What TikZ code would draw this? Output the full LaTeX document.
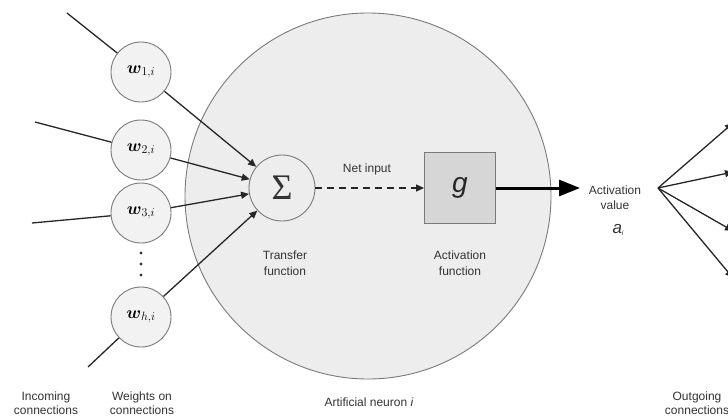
\documentclass[tikz,border=0pt]{standalone}
\usepackage{fontspec}
\usepackage{amsmath}
\setsansfont{Liberation Sans}
\newfontfamily\sigmafont{Liberation Serif}
\usetikzlibrary{arrows.meta}
\definecolor{neurofill}{HTML}{EDEDED}
\definecolor{wfill}{HTML}{F2F2F2}
\definecolor{gfill}{HTML}{D6D6D6}
\definecolor{edgegray}{HTML}{7A7A7A}
\definecolor{txtgray}{HTML}{333333}
\begin{document}
\begin{tikzpicture}[x=1pt,y=-1pt,
  lbl/.style={font=\sffamily\fontsize{12}{14.5}\selectfont, text=txtgray, align=center, inner sep=0pt},
  wnode/.style={circle, draw=edgegray, fill=wfill, line width=0.9pt, minimum size=60pt, inner sep=0pt, font=\fontsize{17.28}{18}\selectfont},
  conn/.style={line width=1.3pt, draw=black!85},
  tipsmall/.style={-{Triangle[length=8pt,width=7pt]}},
]
\useasboundingbox (0,0) rectangle (728,418);
\clip (0,0) rectangle (728,418);

% big neuron circle
\node[circle, draw=edgegray, fill=neurofill, line width=0.9pt, minimum size=366pt, inner sep=0pt] (neuron) at (368,196) {};

% weights
\node[wnode] (w1) at (141,72) {$\boldsymbol{w}_{1,i}$};
\node[wnode] (w2) at (141,150) {$\boldsymbol{w}_{2,i}$};
\node[wnode] (w3) at (141,213) {$\boldsymbol{w}_{3,i}$};
\node[wnode] (wh) at (141,317) {$\boldsymbol{w}_{h,i}$};
\fill[black!80] (141,253) circle (1.6pt) (141,264) circle (1.6pt) (141,275) circle (1.6pt);

% incoming free ends
\coordinate (in1) at (67,13);
\coordinate (in2) at (35,122);
\coordinate (in3) at (32,223);
\coordinate (inh) at (88,367);

% sum and activation
\node[circle, draw=edgegray, fill=neurofill, line width=0.9pt, minimum size=66pt, inner sep=0pt, font=\sigmafont\fontsize{36}{36}\selectfont, text=txtgray] (sum) at (282,188) {Σ};
\node[draw=edgegray, fill=gfill, line width=0.9pt, minimum size=71pt, inner sep=0pt, font=\sffamily\itshape\fontsize{28}{28}\selectfont, text=black!85] (g) at (460,188) {g};

% incoming connections
\draw[conn] (in1) -- (w1);
\draw[conn] (in2) -- (w2);
\draw[conn] (in3) -- (w3);
\draw[conn] (inh) -- (wh);

% weighted to sum
\draw[conn, tipsmall] (w1) -- (sum);
\draw[conn, tipsmall] (w2) -- (sum);
\draw[conn, tipsmall] (w3) -- (sum);
\draw[conn, tipsmall] (wh) -- (sum);

% net input
\draw[conn, tipsmall, dash pattern=on 7pt off 5pt] (sum) -- (g);
\node[lbl] (netin) at (367,169) {Net input};

% labels inside
\node[lbl, font=\sffamily\fontsize{12}{16}\selectfont] (tf) at (285,263) {Transfer\\function};
\node[lbl, font=\sffamily\fontsize{12}{16}\selectfont] (af) at (460,263) {Activation\\function};

% activation value
\node[lbl] (act) at (615,197.5) {Activation\\value};
\node[lbl, text=black!80] (ai) at (618,230) {{\fontsize{17}{17}\selectfont\itshape a}\raisebox{-2pt}{\fontsize{7}{7}\selectfont\itshape i}};
\coordinate (tip) at (580,188);
\draw[line width=3pt, draw=black, -{Triangle[length=21pt,width=16pt]}] (g.east) -- (tip);

% outgoing fan
\coordinate (fan) at (658,188);
\coordinate (o1) at (733,123);
\coordinate (o2) at (733,172);
\coordinate (o3) at (733,231);
\coordinate (o4) at (733,278);
\draw[conn, tipsmall] (fan) -- (o1);
\draw[conn, tipsmall] (fan) -- (o2);
\draw[conn, tipsmall] (fan) -- (o3);
\draw[conn, tipsmall] (fan) -- (o4);

% bottom labels
\node[lbl] (incl) at (46,403) {Incoming\\connections};
\node[lbl] (wl) at (142,403) {Weights on\\connections};
\node[lbl] (nl) at (369,402) {Artificial neuron \textit{i}};
\node[lbl] (ol) at (697,403) {Outgoing\\connections};
\end{tikzpicture}
\end{document}
